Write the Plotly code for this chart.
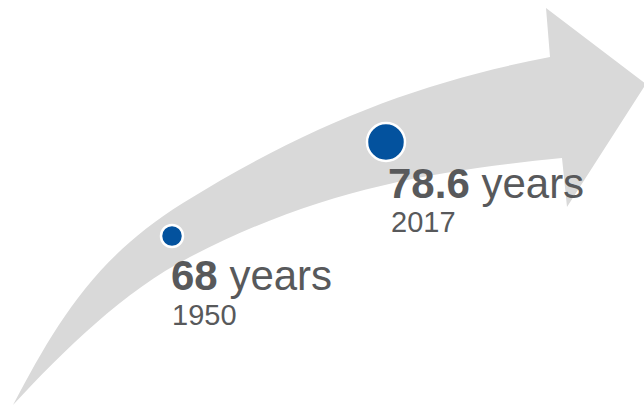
import plotly.graph_objects as go

# ---- data ----
years = [1950, 2017]
life_expectancy = [68, 78.6]
value_labels = ["68", "78.6"]
unit_label = "years"

# ---- style ----
W, H = 644, 406
BLUE = "#03529E"
GRAY = "#D9D9D9"
TEXT = "#58595B"
FONT = "Liberation Sans, Arial, sans-serif"
marker_sizes = [22, 38]

def P(x, y):
    return f"{x / W:.5f},{1 - y / H:.5f}"

# decorative curved arrow (pixel-space outline converted to paper coords)
arrow_path = (
    "M " + P(13, 405)
    + " C " + P(55.5, 325) + " " + P(93, 259) + " " + P(183, 203)
    + " C " + P(313, 122.4) + " " + P(422, 81.7) + " " + P(550, 57)
    + " L " + P(546, 8)
    + " L " + P(646, 84)
    + " L " + P(567, 207)
    + " L " + P(562, 158)
    + " C " + P(432, 171) + " " + P(320, 189.4) + " " + P(190, 257)
    + " C " + P(124, 291) + " " + P(64, 350) + " " + P(13, 405)
    + " Z"
)

fig = go.Figure()
fig.add_trace(go.Scatter(
    x=years, y=life_expectancy, mode="markers",
    marker=dict(size=marker_sizes, color=BLUE, opacity=1,
                line=dict(color="white", width=2.5)),
    hoverinfo="skip", showlegend=False,
))

fig.add_shape(type="path", path=arrow_path, xref="paper", yref="paper",
              fillcolor=GRAY, line=dict(width=0), layer="below")

# text layout offsets (px) relative to each point
big_shift = [(-3, -40), (0, -42)]
small_shift = [(-2, -79), (3, -80)]
big_sizes = [42, 42]
for i, (yr, v) in enumerate(zip(years, life_expectancy)):
    fig.add_annotation(
        x=yr, y=v, xref="x", yref="y", xanchor="left", yanchor="middle",
        text=f"<b>{value_labels[i]}</b> {unit_label}", showarrow=False,
        font=dict(family=FONT, size=big_sizes[i], color=TEXT),
        xshift=big_shift[i][0], yshift=big_shift[i][1],
    )
    fig.add_annotation(
        x=yr, y=v, xref="x", yref="y", xanchor="left", yanchor="middle",
        text=str(yr), showarrow=False,
        font=dict(family=FONT, size=29, color=TEXT),
        xshift=small_shift[i][0], yshift=small_shift[i][1],
    )

fig.update_layout(
    width=W, height=H, margin=dict(l=0, r=0, t=0, b=0),
    paper_bgcolor="white", plot_bgcolor="white",
    xaxis=dict(range=[1896.15, 2097.78], visible=False, fixedrange=True),
    yaxis=dict(range=[48.83, 94.61], visible=False, fixedrange=True),
    showlegend=False,
)

fig.write_html("out.html", config={"displayModeBar": False})
